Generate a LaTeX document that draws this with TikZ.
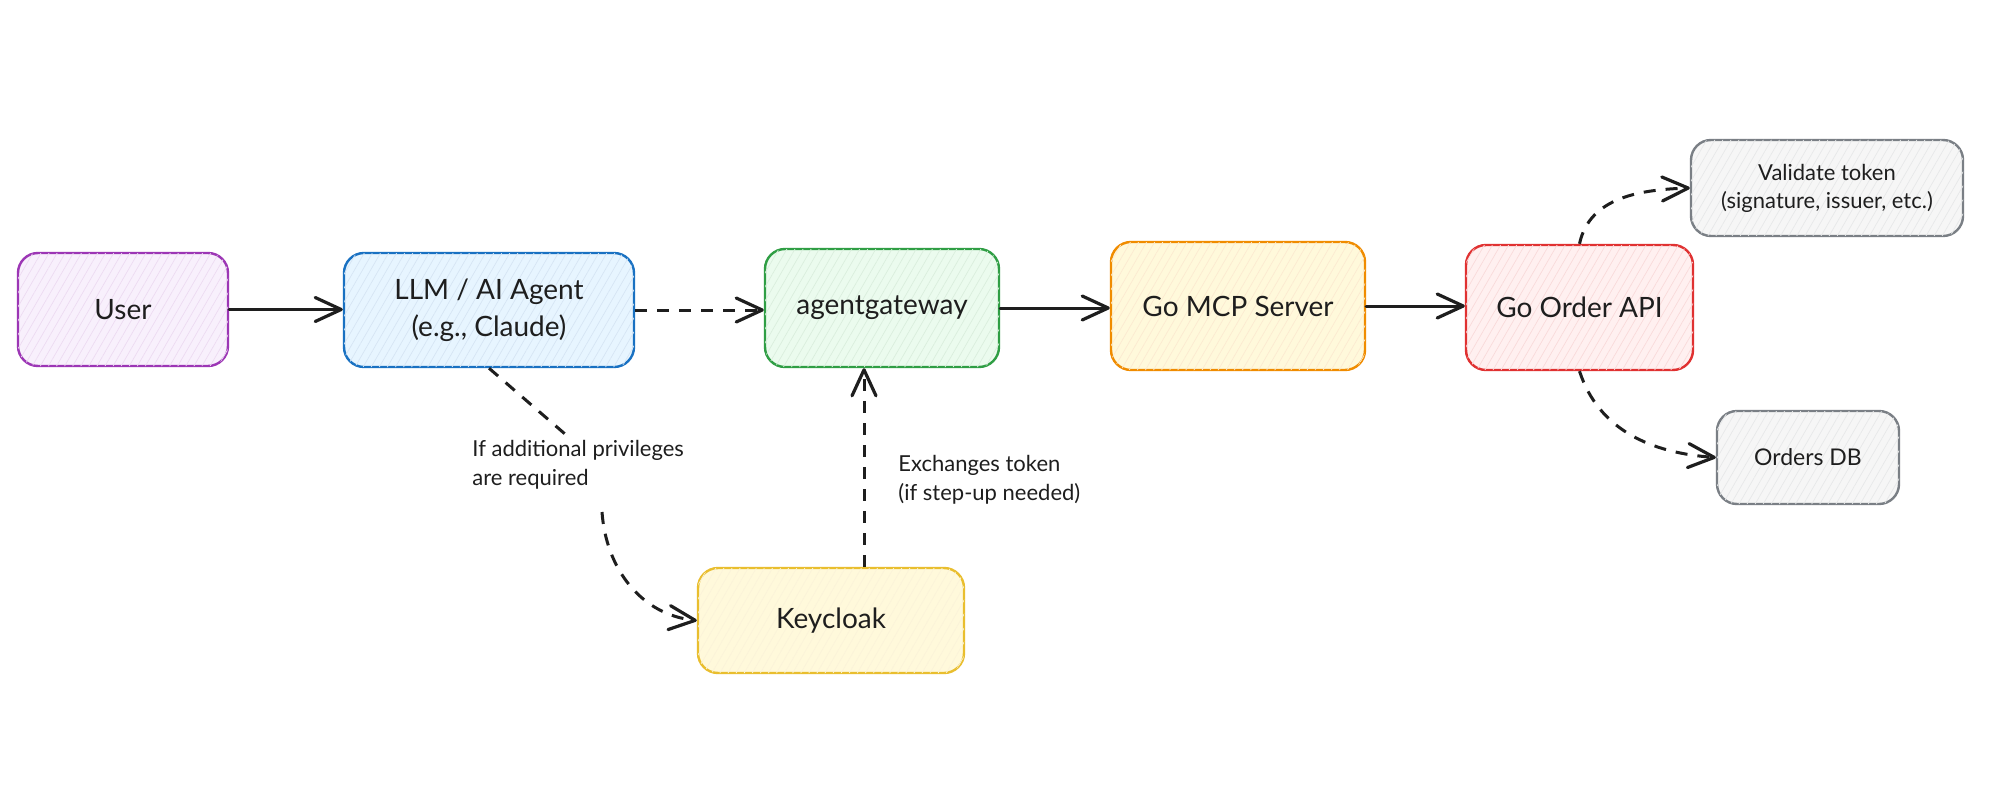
\documentclass[tikz,border=0pt]{standalone}
\usepackage{fontspec}
\setmainfont{Lato}
\usetikzlibrary{arrows.meta,patterns.meta,calc}
\definecolor{cUserS}{HTML}{9C36B5}\definecolor{cUserF}{HTML}{F8F0FC}
\definecolor{cLlmS}{HTML}{1971C2}\definecolor{cLlmF}{HTML}{E7F5FF}
\definecolor{cAgwS}{HTML}{2F9E44}\definecolor{cAgwF}{HTML}{EBFBEE}
\definecolor{cMcpS}{HTML}{F08C00}\definecolor{cMcpF}{HTML}{FFF9DB}
\definecolor{cApiS}{HTML}{E03131}\definecolor{cApiF}{HTML}{FFF0F0}
\definecolor{cGrayS}{HTML}{7A7F85}\definecolor{cGrayF}{HTML}{F6F6F6}
\definecolor{cKcS}{HTML}{E9BE2E}\definecolor{cKcF}{HTML}{FFF9DB}
\definecolor{ink}{HTML}{1E1E1E}
\tikzset{
  box/.style n args={2}{draw=#1, fill=#2, line width=1.2pt, rounded corners=10pt,
    align=center, inner sep=0pt, text=ink, font=\fontsize{14}{18.5}\selectfont,
    postaction={pattern={Lines[angle=60,distance=3.5pt,line width=0.35pt]}, pattern color=#1!18}},
  smallbox/.style={box={cGrayS}{cGrayF}, font=\fontsize{11}{14}\selectfont},
  conn/.style={draw=ink, line width=1.5pt, line cap=round, -{Straight Barb[length=13pt,width=12pt,line width=1.6pt,round]}},
  dconn/.style={conn, line cap=butt, dash pattern=on 6pt off 5pt},
  lbl/.style={align=left, text=ink, font=\fontsize{11}{14.5}\selectfont, inner sep=0pt, anchor=north west}
}
\begin{document}
\begin{tikzpicture}[x=0.5pt,y=-0.5pt]
\fill[white] (0,0) rectangle (2000,786);
\useasboundingbox (0,0) rectangle (2000,786);
\node[box={cUserS}{cUserF}, minimum width=105pt, minimum height=56.5pt] (user) at (123,309.5) {User};
\node[box={cLlmS}{cLlmF}, minimum width=145pt, minimum height=57pt] (llm) at (489,310) {LLM / AI Agent\\(e.g., Claude)};
\node[box={cAgwS}{cAgwF}, minimum width=117pt, minimum height=59pt] (agw) at (882,308) {agentgateway};
\node[box={cMcpS}{cMcpF}, minimum width=127pt, minimum height=64pt] (mcp) at (1238,306) {Go MCP Server};
\node[box={cApiS}{cApiF}, minimum width=113.5pt, minimum height=62.5pt] (api) at (1579.5,307.5) {Go Order API};
\node[smallbox, minimum width=136pt, minimum height=48pt] (val) at (1827,188) {Validate token\\(signature, issuer, etc.)};
\node[smallbox, minimum width=91pt, minimum height=46.5pt, font=\fontsize{11.5}{14}\selectfont] (db) at (1808,457.5) {Orders DB};
\node[box={cKcS}{cKcF}, minimum width=133pt, minimum height=52.5pt] (kc) at (831,620.5) {Keycloak};

\draw[conn] (user.east) -- (user.east -| llm.west);
\draw[dconn] (llm.east) -- (llm.east -| agw.west);
\draw[conn] (agw.east) -- (agw.east -| mcp.west);
\draw[conn] (mcp.east) -- (mcp.east -| api.west);
\draw[dconn] (api.north) to[out=78,in=182] (val.west);
\draw[dconn] (api.south) to[out=-72,in=176] (db.west);

\coordinate (p1) at (565,434);
\coordinate (p2) at (602,512);
\node[lbl] (l1) at (472,440) {If additional privileges\\are required};
\draw[draw=ink, line width=1.5pt, dash pattern=on 6pt off 5pt] (llm.south) -- (p1);
\draw[dconn] (p2) to[out=-86,in=174] (kc.west);

\coordinate (kx) at ($(kc.north)+(33,0)$);
\draw[dconn] (kx) -- (kx |- agw.south);
\node[lbl] (l2) at (898,455) {Exchanges token\\(if step-up needed)};
\end{tikzpicture}
\end{document}
